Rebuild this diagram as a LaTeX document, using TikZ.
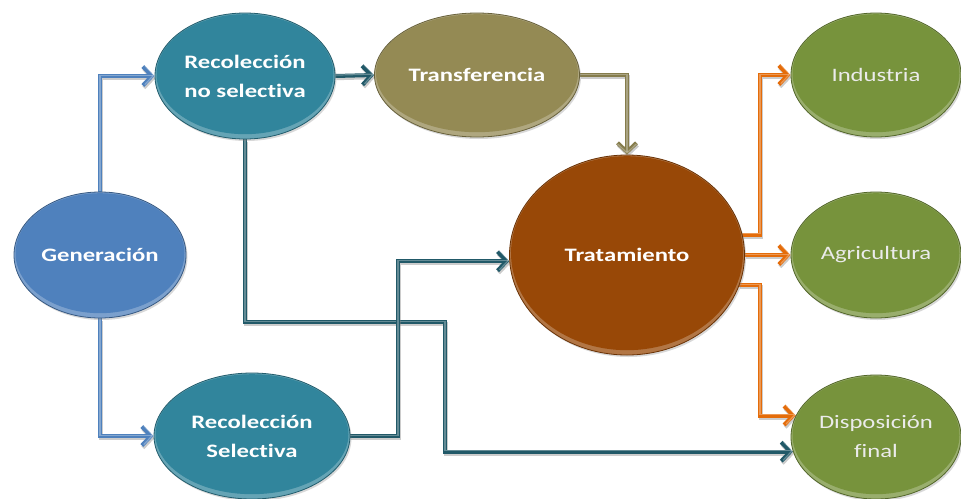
\documentclass[tikz,border=0pt]{standalone}
\usepackage{fontspec}
\usetikzlibrary{shapes.geometric,arrows.meta,shadows,calc}
\newfontfamily\nfont[FakeStretch=1.3,Ligatures=NoCommon]{Carlito}
\definecolor{cblue}{HTML}{4F81BD}
\definecolor{cteal}{HTML}{31859C}
\definecolor{cdteal}{HTML}{215968}
\definecolor{ckhaki}{HTML}{948A54}
\definecolor{cbrown}{HTML}{984807}
\definecolor{corange}{HTML}{E46C0A}
\definecolor{cgreen}{HTML}{77933C}
\pgfdeclarelayer{back}
\pgfdeclarelayer{bg}
\pgfsetlayers{back,bg,main}
\tikzset{
  bubble/.style={ellipse, inner sep=0pt, align=center, text=white,
    font=\nfont\bfseries\fontsize{19}{29}\selectfont,
    fill=#1!75!white, draw=#1!70!black, line width=0.8pt,
    drop shadow={opacity=0.3, shadow xshift=1.5pt, shadow yshift=-2pt},
    path picture={\path let \p1=(path picture bounding box.north east),
        \p2=(path picture bounding box.center) in
        [fill=#1] ([yshift=1.8pt]\p2) ellipse [x radius={\x1-\x2-1.5pt}, y radius={\y1-\y2-3pt}];}},
  light/.style={font=\nfont\fontsize{19}{29}\selectfont, text=white!92!black},
  conn/.style={line width=4pt, draw=#1, -{Straight Barb[length=9pt,width=19pt]},
    preaction={draw=black!50, opacity=0.4, line width=4pt,
      transform canvas={xshift=1pt,yshift=-2.2pt}},
    postaction={draw=white, opacity=0.3, line width=1.2pt, -{Straight Barb[length=9pt,width=19pt]},
      transform canvas={yshift=0.9pt}}},
}
\begin{document}
\begin{tikzpicture}[x=1pt,y=-1pt]
\useasboundingbox (0,0) rectangle (961,498);
\begin{pgfonlayer}{back}
\fill[white] (0,0) rectangle (961,498);
\end{pgfonlayer}

\node[bubble=cblue, minimum width=172pt, minimum height=126pt] (gen) at (100,255) {Generación};
\node[bubble=cteal, minimum width=180pt, minimum height=126pt] (rns) at (245,76) {Recolección\\no selectiva};
\node[bubble=ckhaki, minimum width=205pt, minimum height=124pt] (trf) at (477,75) {Transferencia};
\node[bubble=cbrown, minimum width=235pt, minimum height=200pt] (trt) at (627,255) {Tratamiento};
\node[bubble=cgreen, light, minimum width=170pt, minimum height=124pt] (ind) at (876,75) {Industria};
\node[bubble=cgreen, light, minimum width=170pt, minimum height=126pt] (agr) at (876,255) {Agricultura};
\node[bubble=cgreen, light, minimum width=170pt, minimum height=124pt] (dis) at (876,437) {Disposición\\final};
\node[bubble=cteal, minimum width=196pt, minimum height=126pt] (rs) at (252,436) {Recolección\\Selectiva};

\coordinate (jr) at (760,0);
\coordinate (js) at (398,0);
\coordinate (jd) at (445,322);

\begin{pgfonlayer}{bg}
\draw[conn=cblue] (gen.north) |- (rns.west);
\draw[conn=cblue] (gen.south) |- (rs.west);
\draw[conn=cdteal] (rns.east) -- (trf.west);
\draw[conn=ckhaki!90!black] (trf.east) -| (trt.north);
\draw[conn=cdteal] (rns.south) |- (jd) |- (dis.190);
\draw[conn=cdteal] (rs.east) -- (rs.east -| js) |- (trt.183);
\draw[conn=corange] (trt.10) -- (trt.10 -| jr) |- (ind.west);
\draw[conn=corange] (trt.east) -- (agr.west);
\draw[conn=corange] (trt.-15) -- (trt.-15 -| jr) |- (dis.165);
\end{pgfonlayer}
\end{tikzpicture}
\end{document}
